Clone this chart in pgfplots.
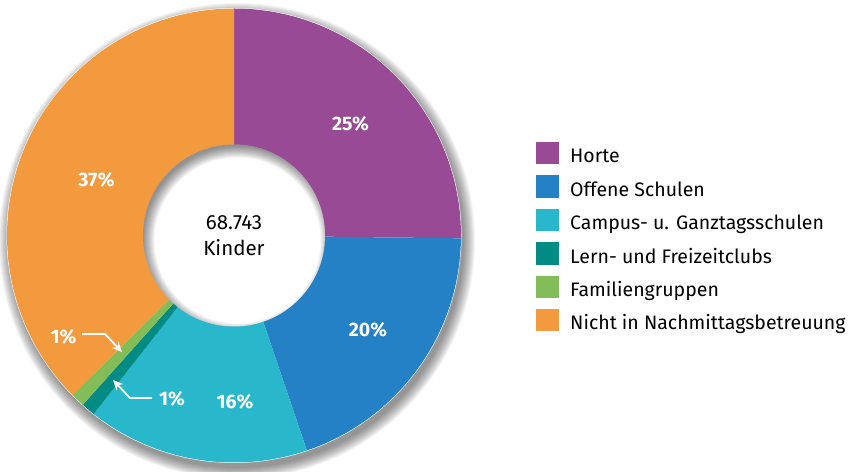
\documentclass[border=0pt]{standalone}
\usepackage{pgfplots}
\pgfplotsset{compat=1.18}
\usepackage{pgfplotstable}
\usepackage{fontspec}
\setmainfont{Fira Sans}
\usetikzlibrary{arrows.meta}

\definecolor{horte}{RGB}{152,75,148}
\definecolor{offene}{RGB}{36,129,197}
\definecolor{campus}{RGB}{41,184,203}
\definecolor{lern}{RGB}{0,140,133}
\definecolor{familie}{RGB}{130,189,90}
\definecolor{nicht}{RGB}{243,154,63}

% shares in percent, clockwise from 12 o'clock
\pgfplotstableread[col sep=comma]{
label,value,color
Horte,25.2,horte
Offene Schulen,19.6,offene
Campus- u. Ganztagsschulen,15.8,campus
Lern- und Freizeitclubs,1.0,lern
Familiengruppen,1.0,familie
Nicht in Nachmittagsbetreuung,37.4,nicht
}\slices

\newcommand\cx{234}
\newcommand\cy{235.5}
\newcommand\R{227}
\newcommand\rin{91}

\newcommand\legkey[1]{\addlegendimage{legend image code/.code={%
  \path[draw=none, fill=none] (0pt,-16.7pt) rectangle (34pt,16.7pt);
  \fill[#1, draw=none] (0pt,-11.2pt) rectangle (22.5pt,11.2pt);}}}

\begin{document}
\begin{tikzpicture}
\begin{axis}[
  scale only axis, width=851pt, height=471pt,
  xmin=0, xmax=851, ymin=0, ymax=471,
  hide axis, clip=false,
  legend style={at={(axis cs:536,334.7)}, anchor=north west,
    draw=none, fill=none, inner xsep=0pt, inner ysep=0pt,
    row sep=0pt, column sep=0pt,
    font=\fontsize{19.5}{22}\selectfont,
    nodes={inner sep=0pt, text height=21pt, text depth=1.6pt}},
  legend cell align=left,
]
\coordinate (bl) at (axis cs:0,0);
\coordinate (tr) at (axis cs:851,471);
\pgfplotsextra{
  % drop shadow
  \foreach \k in {0,...,11}{
    \fill[black, opacity=0.045] (axis cs:\cx+3,\cy-5.5) circle[radius=\R pt+11pt-\k pt];
  }
  \fill[white] (axis cs:\cx,\cy) circle[radius=\R pt+0.5pt];
  % slices
  \pgfplotstablegetrowsof{\slices}
  \pgfmathtruncatemacro\nrows{\pgfplotsretval-1}
  \gdef\astart{90}
  \foreach \i in {0,...,\nrows}{
    \pgfplotstablegetelem{\i}{value}\of\slices \let\v\pgfplotsretval
    \pgfplotstablegetelem{\i}{color}\of\slices \let\c\pgfplotsretval
    \pgfmathsetmacro\aend{\astart-3.6*\v}
    \fill[\c] (axis cs:\cx,\cy) -- ([shift={(\astart:\R pt)}]axis cs:\cx,\cy)
      arc[start angle=\astart, end angle=\aend, radius=\R pt] -- cycle;
    \global\let\astart\aend
  }
  % hole with inner shadow
  \fill[white] (axis cs:\cx,\cy) circle[radius=\rin pt];
  \begin{scope}
    \clip (axis cs:\cx,\cy) circle[radius=\rin pt];
    \foreach \k in {0,...,11}{
      \fill[black, opacity=0.045, even odd rule]
        (axis cs:\cx,\cy) circle[radius=\rin pt+20pt]
        (axis cs:\cx+3.5,\cy-5) circle[radius=\rin pt-\k pt+3pt];
    }
  \end{scope}
}
% labels
\node[anchor=base, white, font=\fontsize{19.5}{22}\selectfont\bfseries] at (axis cs:350.5,340) {25\%};
\node[anchor=base, white, font=\fontsize{19.5}{22}\selectfont\bfseries] at (axis cs:368,134) {20\%};
\node[anchor=base, white, font=\fontsize{19.5}{22}\selectfont\bfseries] at (axis cs:235,62) {16\%};
\node[anchor=base, white, font=\fontsize{19.5}{22}\selectfont\bfseries] at (axis cs:96.5,284) {37\%};
\node[anchor=base, white, font=\fontsize{19.5}{22}\selectfont\bfseries] at (axis cs:63.5,127) {1\%};
\node[anchor=base, white, font=\fontsize{19.5}{22}\selectfont\bfseries] at (axis cs:172,65) {1\%};
\draw[white, line width=1.8pt, -{Stealth[length=10pt, width=9pt]}]
  (axis cs:82,137) -- (axis cs:105,137) -- (axis cs:122,119);
\draw[white, line width=1.8pt, -{Stealth[length=10pt, width=9pt]}]
  (axis cs:152,73) -- (axis cs:130,73) -- (axis cs:113,91);
\node[anchor=base, font=\fontsize{20.5}{22}\selectfont] at (axis cs:234,241) {68.743};
\node[anchor=base, font=\fontsize{20.5}{22}\selectfont] at (axis cs:234,215) {Kinder};

\legkey{horte}\addlegendentry{Horte}
\legkey{offene}\addlegendentry{Offene Schulen}
\legkey{campus}\addlegendentry{Campus- u. Ganztagsschulen}
\legkey{lern}\addlegendentry{Lern- und Freizeitclubs}
\legkey{familie}\addlegendentry{Familiengruppen}
\legkey{nicht}\addlegendentry{Nicht in Nachmittagsbetreuung}
\end{axis}
\pgfresetboundingbox
\path[use as bounding box] (bl) rectangle (tr);
\end{tikzpicture}
\end{document}
